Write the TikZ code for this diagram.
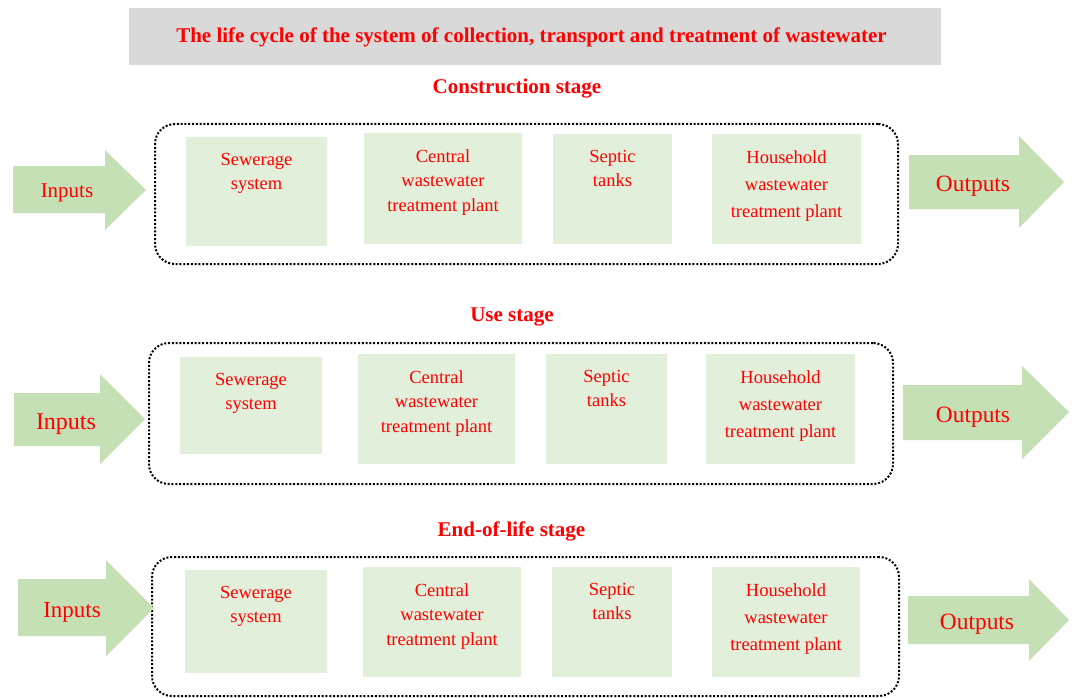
\documentclass[tikz,border=0pt]{standalone}
\usepackage{fontspec}
\setmainfont{Liberation Serif}
\definecolor{titlegray}{RGB}{217,217,217}
\definecolor{boxgreen}{RGB}{226,239,218}
\definecolor{arrowgreen}{RGB}{197,224,180}
\definecolor{txtred}{RGB}{255,0,0}
\tikzset{
  gbox/.style={fill=boxgreen, draw=none, inner sep=0pt, outer sep=0pt},
  boxtext/.style={text=txtred, align=center, inner sep=0pt, anchor=north, font=\fontsize{18.5}{24.5}\selectfont},
  boxtexthh/.style={boxtext, font=\fontsize{18.5}{27}\selectfont},
  stagebox/.style={draw=black, line width=2pt, dash pattern=on 2pt off 1.8pt, rounded corners=20pt, fill=none, inner sep=0pt},
  stagelabel/.style={text=txtred, font=\bfseries\fontsize{21}{25}\selectfont, inner sep=0pt},
  arrowtext/.style={text=txtred, inner sep=0pt},
  bigarrow/.style={fill=arrowgreen, draw=none},
}
\newcommand\greenbox[5]{%
  \node[gbox, minimum width={(#4-#2)*1pt}, minimum height={(#5-#3)*1pt}] (#1) at ({(#2+#4)/2},{(#3+#5)/2}) {};
}
\begin{document}
\begin{tikzpicture}[x=1pt,y=-1pt]
\useasboundingbox (0,0) rectangle (1073,698);
% title
\node[fill=titlegray, minimum width=812pt, minimum height=57pt, inner sep=0pt] (titlebox) at (535,36.5) {};
\node[stagelabel] (title) at (531.5,37.5) {The life cycle of the system of collection, transport and treatment of wastewater};

% ---------------- Row 1 ----------------
\node[stagelabel] (st1) at (517,89) {Construction stage};
\node[stagebox, minimum width=743pt, minimum height=140pt] (frame1) at (526.5,194) {};
\greenbox{s1}{186}{137}{327}{246}
\greenbox{c1}{364}{133}{522}{244}
\greenbox{t1}{553}{134}{672}{244}
\greenbox{h1}{712}{134}{861}{244}
\node[boxtext] (s1t) at ([yshift=-16pt]s1.north) {Sewerage\\system};
\node[boxtext] (c1t) at ([yshift=-16pt]c1.north) {Central\\wastewater\\treatment plant};
\node[boxtext] (t1t) at ([yshift=-16pt]t1.north) {Septic\\tanks};
\node[boxtexthh] (h1t) at ([yshift=-16pt]h1.north) {Household\\wastewater\\treatment plant};
\fill[bigarrow] (13,166) -- (105,166) -- (105,150) -- (146,190) -- (105,230) -- (105,213) -- (13,213) -- cycle;
\node[arrowtext, font=\fontsize{21}{25}\selectfont] (in1) at (67,193) {Inputs};
\fill[bigarrow] (909,155) -- (1019,155) -- (1019,136) -- (1064,182) -- (1019,228) -- (1019,209) -- (909,209) -- cycle;
\node[arrowtext, font=\fontsize{23.4}{27}\selectfont] (out1) at (973,186) {Outputs};

% ---------------- Row 2 ----------------
\node[stagelabel] (st2) at (512,317) {Use stage};
\node[stagebox, minimum width=744pt, minimum height=141pt] (frame2) at (521,413.5) {};
\greenbox{s2}{180}{357}{322}{454}
\greenbox{c2}{358}{354}{515}{464}
\greenbox{t2}{546}{354}{667}{464}
\greenbox{h2}{706}{354}{855}{464}
\node[boxtext] (s2t) at ([yshift=-16pt]s2.north) {Sewerage\\system};
\node[boxtext] (c2t) at ([yshift=-16pt]c2.north) {Central\\wastewater\\treatment plant};
\node[boxtext] (t2t) at ([yshift=-16pt]t2.north) {Septic\\tanks};
\node[boxtexthh] (h2t) at ([yshift=-16pt]h2.north) {Household\\wastewater\\treatment plant};
\fill[bigarrow] (14,393) -- (100,393) -- (100,374) -- (145,419) -- (100,464) -- (100,446) -- (14,446) -- cycle;
\node[arrowtext, font=\fontsize{24}{28}\selectfont] (in2) at (66,424) {Inputs};
\fill[bigarrow] (903,385) -- (1022,385) -- (1022,366) -- (1069,412) -- (1022,459) -- (1022,440) -- (903,440) -- cycle;
\node[arrowtext, font=\fontsize{23.4}{27}\selectfont] (out2) at (973,417) {Outputs};

% ---------------- Row 3 ----------------
\node[stagebox, minimum width=747pt, minimum height=139pt] (frame3) at (525.5,626.5) {};
\node[stagelabel] (st3) at (511.5,531.5) {End-of-life stage};
\greenbox{s3}{185}{570}{327}{673}
\greenbox{c3}{363}{567}{521}{677}
\greenbox{t3}{552}{567}{672}{677}
\greenbox{h3}{712}{567}{860}{677}
\node[boxtext] (s3t) at ([yshift=-16pt]s3.north) {Sewerage\\system};
\node[boxtext] (c3t) at ([yshift=-16pt]c3.north) {Central\\wastewater\\treatment plant};
\node[boxtext] (t3t) at ([yshift=-16pt]t3.north) {Septic\\tanks};
\node[boxtexthh] (h3t) at ([yshift=-16pt]h3.north) {Household\\wastewater\\treatment plant};
\fill[bigarrow] (18,579) -- (106,579) -- (106,560) -- (154,608) -- (106,656) -- (106,636) -- (18,636) -- cycle;
\node[arrowtext, font=\fontsize{23}{27}\selectfont] (in3) at (72,612) {Inputs};
\fill[bigarrow] (908,596) -- (1029,596) -- (1029,579) -- (1069,620) -- (1029,661) -- (1029,644) -- (908,644) -- cycle;
\node[arrowtext, font=\fontsize{23.4}{27}\selectfont] (out3) at (977,624) {Outputs};
\end{tikzpicture}
\end{document}
